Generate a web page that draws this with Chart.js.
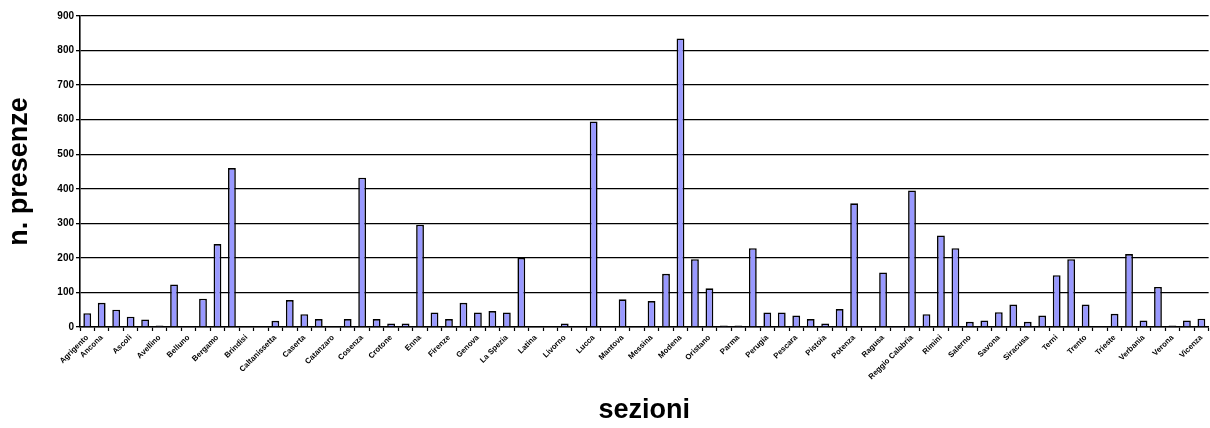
<!DOCTYPE html>
<html>
<head>
<meta charset="utf-8">
<script src="https://cdn.jsdelivr.net/npm/chart.js@4"></script>
<style>
    html, body { margin: 0; padding: 0; background: #fff; }
    #wrap { width: 1210px; height: 428px; }
</style>
</head>
<body>
<div id="wrap"><canvas id="presenzeChart" width="1210" height="428"></canvas></div>
<script>
// categories: only every other section carries a visible label
const sezioni = [
    'Agrigento', 'Ancona', '', 'Ascoli', '', 'Avellino', '', 'Belluno', '', 'Bergamo',
    '', 'Brindisi', '', 'Caltanissetta', '', 'Caserta', '', 'Catanzaro', '', 'Cosenza',
    '', 'Crotone', '', 'Enna', '', 'Firenze', '', 'Genova', '', 'La Spezia',
    '', 'Latina', '', 'Livorno', '', 'Lucca', '', 'Mantova', '', 'Messina',
    '', 'Modena', '', 'Oristano', '', 'Parma', '', 'Perugia', '', 'Pescara',
    '', 'Pistoia', '', 'Potenza', '', 'Ragusa', '', 'Reggio Calabria', '', 'Rimini',
    '', 'Salerno', '', 'Savona', '', 'Siracusa', '', 'Terni', '', 'Trento',
    '', 'Trieste', '', 'Verbania', '', 'Verona', '', 'Vicenza'
];

// n. presenze for each section
const presenze = [
    40, 70, 50, 30, 22, 4, 123, 0, 82, 240,
    460, 3, 3, 18, 78, 37, 23, 3, 23, 432,
    23, 10, 10, 296, 42, 23, 70, 42, 46, 42,
    200, 0, 0, 10, 0, 595, 0, 80, 0, 75,
    154, 835, 196, 112, 4, 4, 228, 42, 42, 33,
    23, 10, 52, 358, 0, 158, 0, 395, 37, 265,
    228, 15, 19, 43, 65, 15, 33, 150, 196, 65,
    0, 38, 211, 19, 116, 4, 19, 24
];

const yTicks = [0, 100, 200, 300, 400, 500, 600, 700, 800, 900];

document.addEventListener('DOMContentLoaded', () => {
    const ctx = document.getElementById('presenzeChart').getContext('2d');
    const fontFamily = '"Liberation Sans", Arial, sans-serif';

    new Chart(ctx, {
        type: 'bar',
        data: {
            labels: sezioni,
            datasets: [{
                label: 'n. presenze',
                data: presenze,
                backgroundColor: '#9999ff',
                borderColor: '#000000',
                borderWidth: 1.6,
                categoryPercentage: 1.0,
                barPercentage: 0.54,
            }]
        },
        options: {
            responsive: false,
            animation: false,
            layout: { padding: { top: 16, right: 0, left: 0, bottom: 0 } },
            plugins: {
                legend: { display: false },
                tooltip: { enabled: false },
            },
            scales: {
                x: {
                    afterFit: (scale) => { scale.height = 101; },
                    grid: {
                        display: true,
                        offset: true,
                        drawOnChartArea: false,
                        color: '#000',
                        tickLength: 4,
                        tickWidth: 1.2,
                    },
                    border: { color: '#000', width: 1.6 },
                    ticks: {
                        autoSkip: false,
                        minRotation: 45,
                        maxRotation: 45,
                        padding: 2,
                        color: '#000',
                        font: { family: fontFamily, size: 7.8, weight: 'bold' },
                        callback: (value, index) => sezioni[index],
                    },
                    title: {
                        display: true,
                        text: 'sezioni',
                        color: '#000',
                        font: { family: fontFamily, size: 27, weight: 'bold' },
                        padding: { top: 0, bottom: 1 },
                    },
                },
                y: {
                    min: 0,
                    max: 900,
                    afterFit: (scale) => { scale.width = 80; },
                    afterBuildTicks: (scale) => { scale.ticks = yTicks.map(v => ({ value: v })); },
                    grid: {
                        color: '#000',
                        lineWidth: 1.3,
                        tickLength: 4,
                    },
                    border: { color: '#000', width: 1.6 },
                    ticks: {
                        padding: 2,
                        color: '#000',
                        font: { family: fontFamily, size: 10, weight: 'bold' },
                    },
                    title: {
                        display: true,
                        text: 'n. presenze',
                        color: '#000',
                        font: { family: fontFamily, size: 27, weight: 'bold' },
                        padding: { top: 3, bottom: 0 },
                    },
                },
            },
        }
    });
});
</script>
</body>
</html>
